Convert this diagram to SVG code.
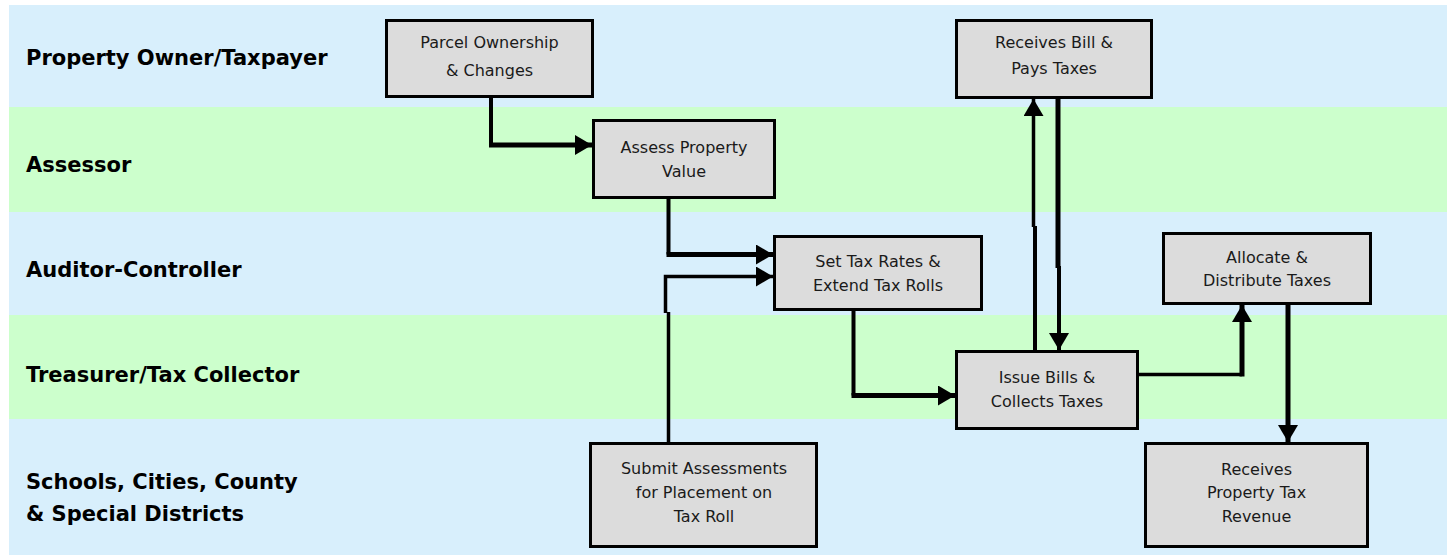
<svg xmlns="http://www.w3.org/2000/svg" width="1450" height="556" viewBox="0 0 1450 556">
<style>
.lb{fill:#D8EFFC}
.lg{fill:#CCFFCC}
.lane{font-family:"DejaVu Sans",sans-serif;font-weight:bold;font-size:21px;fill:#000}
.box rect{fill:#DCDCDC;stroke:#000;stroke-width:3}
.box text{font-family:"DejaVu Sans",sans-serif;font-size:16px;fill:#1a1a1a;text-anchor:middle}
.c{fill:none;stroke:#000;stroke-linejoin:miter}
.t5{stroke-width:5}
.t4{stroke-width:4}
.t3{stroke-width:3.5}
</style>
<defs>
<marker id="ah" viewBox="0 0 17 20" markerWidth="17" markerHeight="20" markerUnits="userSpaceOnUse" refX="17" refY="10" orient="auto">
<path d="M0,0 L17,10 L0,20 z" fill="#000"/>
</marker>
</defs>
<rect width="1450" height="556" fill="#fff"/>
<g id="lanes">
<rect class="lb" x="9" y="5" width="1438" height="102"/>
<rect class="lg" x="9" y="107" width="1438" height="105"/>
<rect class="lb" x="9" y="212" width="1438" height="103"/>
<rect class="lg" x="9" y="315" width="1438" height="104"/>
<rect class="lb" x="9" y="419" width="1438" height="136"/>
<text class="lane" x="26" y="65">Property Owner/Taxpayer</text>
<text class="lane" x="26" y="172">Assessor</text>
<text class="lane" x="26" y="277">Auditor-Controller</text>
<text class="lane" x="26" y="382">Treasurer/Tax Collector</text>
<text class="lane" x="26" y="489">Schools, Cities, County</text>
<text class="lane" x="26" y="521">&amp; Special Districts</text>
</g>
<g id="connectors">
<path class="c t4" d="M491 98 V145"/>
<path class="c t5" d="M489 145 H592" marker-end="url(#ah)"/>
<path class="c t4" d="M668.5 199 V254.5"/>
<path class="c t5" d="M666.5 254.5 H773" marker-end="url(#ah)"/>
<path class="c t3" d="M668.5 442 V312"/>
<path class="c t3" d="M665.5 313 V276.5 H773" marker-end="url(#ah)"/>
<path class="c t4" d="M853.5 311 V395.5"/>
<path class="c t5" d="M851.5 395.5 H955" marker-end="url(#ah)"/>
<path class="c t4" d="M1035 350 V226"/>
<path class="c t3" d="M1033.5 227 V99" marker-end="url(#ah)"/>
<path class="c t5" d="M1058 99 V268"/>
<path class="c t4" d="M1059 266 V350" marker-end="url(#ah)"/>
<path class="c t3" d="M1139 374.5 H1242"/>
<path class="c t5" d="M1242 376.5 V305" marker-end="url(#ah)"/>
<path class="c t5" d="M1288 301 V442" marker-end="url(#ah)"/>
</g>
<g id="n1" class="box">
<rect x="386.5" y="20.5" width="206" height="76"/>
<text x="489.5" y="48">Parcel Ownership</text>
<text x="489.5" y="76">&amp; Changes</text>
</g>
<g id="n2" class="box">
<rect x="593.5" y="120.5" width="181" height="77"/>
<text x="684" y="153">Assess Property</text>
<text x="684" y="177">Value</text>
</g>
<g id="n3" class="box">
<rect x="774.5" y="236.5" width="207" height="73"/>
<text x="878" y="267">Set Tax Rates &amp;</text>
<text x="878" y="291">Extend Tax Rolls</text>
</g>
<g id="n4" class="box">
<rect x="590.5" y="443.5" width="226" height="103"/>
<text x="704" y="474">Submit Assessments</text>
<text x="704" y="498">for Placement on</text>
<text x="704" y="522">Tax Roll</text>
</g>
<g id="n5" class="box">
<rect x="956.5" y="351.5" width="181" height="77"/>
<text x="1047" y="383">Issue Bills &amp;</text>
<text x="1047" y="407">Collects Taxes</text>
</g>
<g id="n6" class="box">
<rect x="956.5" y="20.5" width="195" height="77"/>
<text x="1054" y="48">Receives Bill &amp;</text>
<text x="1054" y="74">Pays Taxes</text>
</g>
<g id="n7" class="box">
<rect x="1163.5" y="233.5" width="207" height="70"/>
<text x="1267" y="263">Allocate &amp;</text>
<text x="1267" y="286">Distribute Taxes</text>
</g>
<g id="n8" class="box">
<rect x="1145.5" y="443.5" width="222" height="103"/>
<text x="1256.5" y="475">Receives</text>
<text x="1256.5" y="498">Property Tax</text>
<text x="1256.5" y="522">Revenue</text>
</g>
</svg>
